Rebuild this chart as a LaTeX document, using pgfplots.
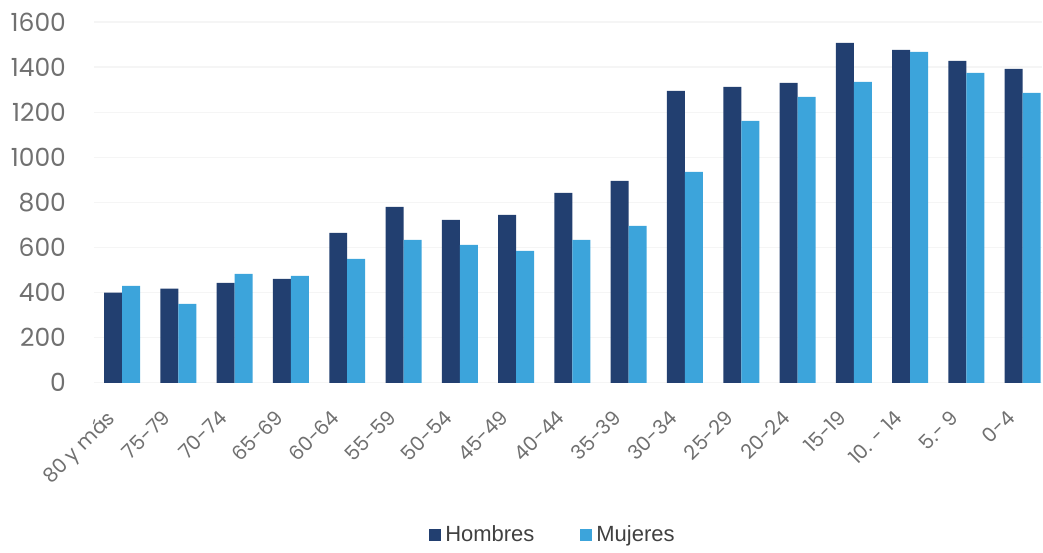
\documentclass[border=0pt]{standalone}
\usepackage{pgfplots}
\pgfplotsset{compat=1.18}
\usepackage{fontspec}
\setmainfont{Liberation Sans}
\newfontfamily\tickfont{Poppins}
\definecolor{hom}{HTML}{223F70}
\definecolor{muj}{HTML}{3CA4DB}
\definecolor{txt}{HTML}{707070}
\begin{document}
\begin{tikzpicture}
\begin{axis}[
  width=474.5pt, height=180.5pt, scale only axis,
  xmin=-0.5, xmax=16.35, ymin=0, ymax=1600,
  ytick={0,200,...,1600},
  xtick={0,...,16},
  xticklabels={80 y más,75-79,70-74,65-69,60-64,55-59,50-54,45-49,40-44,35-39,30-34,25-29,20-24,15-19,10. - 14,5.- 9,0-4},
  axis line style={draw=none},
  major tick length=0pt,
  ymajorgrids, grid style={draw=gray!8, line width=0.6pt},
  /pgf/number format/assume math mode=true,
  /pgf/number format/1000 sep={},
  yticklabel style={font=\tickfont\fontsize{12.5}{14}\selectfont, text=txt, xshift=-10.5pt},
  xticklabel style={font=\tickfont\fontsize{10}{11}\selectfont, text=txt, rotate=45, anchor=north east, inner sep=1pt, yshift=-2pt, xshift=-14pt},
  legend style={draw=none, fill=none, at={(0.485,-0.421)}, anchor=center, legend columns=2,
    font=\fontsize{11}{13}\selectfont, text=black!75,
    /tikz/every even column/.append style={column sep=21pt}},
  legend image code/.code={\fill[#1] (0pt,-3pt) rectangle (6pt,3pt);},
  clip=false,
]
\addplot[ybar, bar width=9pt, bar shift=-4.5pt, fill=hom, draw=none] coordinates {
(0,400) (1,417) (2,443) (3,461) (4,665) (5,780) (6,722) (7,745) (8,842) (9,895)
(10,1294) (11,1312) (12,1330) (13,1507) (14,1476) (15,1427) (16,1392)};
\addlegendentry{Hombres}
\addplot[ybar, bar width=9pt, bar shift=4.5pt, fill=muj, draw=none] coordinates {
(0,430) (1,350) (2,483) (3,474) (4,550) (5,634) (6,612) (7,585) (8,634) (9,696)
(10,935) (11,1161) (12,1268) (13,1334) (14,1467) (15,1374) (16,1286)};
\addlegendentry{Mujeres}
\end{axis}
\path ([xshift=-47pt,yshift=11pt]current axis.north west) ([yshift=-81.5pt]current axis.south east);
\end{tikzpicture}
\end{document}
